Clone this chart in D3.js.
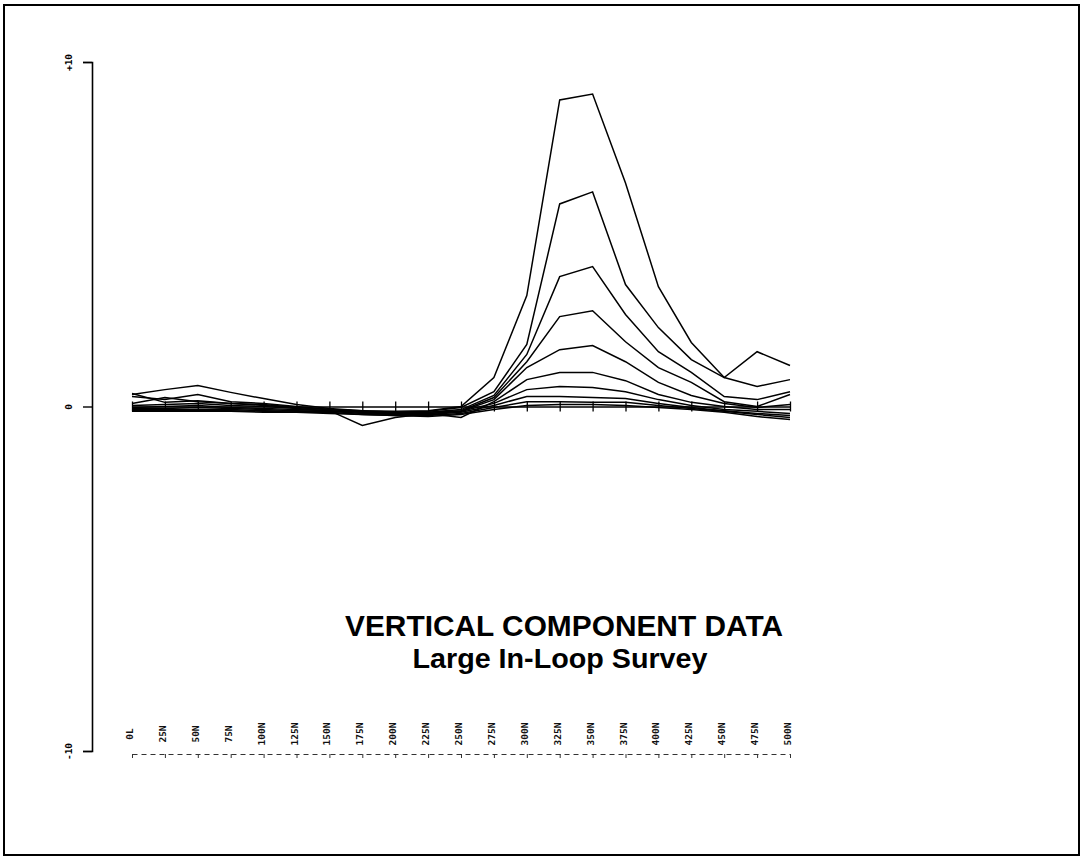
<!DOCTYPE html>
<html>
<head>
<meta charset="utf-8">
<script src="https://cdn.jsdelivr.net/npm/d3@7"></script>
<style>
body { margin: 0; background: #fff; }
svg { display: block; }
</style>
</head>
<body>
<svg id="chart" width="1083" height="858"></svg>
<script>
var stations = ["0L", "25N", "50N", "75N", "100N", "125N", "150N", "175N", "200N", "225N", "250N",
                "275N", "300N", "325N", "350N", "375N", "400N", "425N", "450N", "475N", "500N"];
var yTicks = [-10, 0, 10];
var yTickLabels = ["-10", "0", "+10"];

// one array per time channel, early to late
var ch1 = [0.35, 0.49, 0.61, 0.41, 0.23, 0.06, -0.06, -0.12, -0.14, -0.12, 0.00, 0.84, 3.22, 8.90, 9.07, 6.49, 3.48, 1.86, 0.84, 1.59, 1.19];
var ch2 = [0.29, 0.20, 0.35, 0.14, 0.09, 0.00, -0.09, -0.12, -0.17, -0.14, -0.03, 0.43, 1.80, 5.88, 6.23, 3.54, 2.29, 1.36, 0.84, 0.58, 0.78];
var ch3 = [0.38, 0.12, 0.17, 0.09, 0.06, -0.03, -0.09, -0.14, -0.17, -0.17, -0.09, 0.32, 1.51, 3.77, 4.06, 2.67, 1.59, 0.99, 0.29, 0.20, 0.43];
var ch4 = [0.09, 0.26, 0.14, 0.09, 0.03, -0.03, -0.09, -0.14, -0.20, -0.17, -0.12, 0.26, 1.30, 2.61, 2.78, 1.88, 1.13, 0.70, 0.14, 0.00, 0.35];
var ch5 = [0.03, 0.06, 0.09, 0.03, 0.00, -0.06, -0.12, -0.55, -0.32, -0.20, -0.14, 0.20, 1.13, 1.65, 1.77, 1.30, 0.70, 0.32, 0.09, -0.03, 0.06];
var ch6 = [-0.03, 0.00, 0.03, -0.03, -0.06, -0.09, -0.12, -0.17, -0.23, -0.20, -0.32, 0.14, 0.78, 0.99, 0.99, 0.75, 0.35, 0.12, 0.00, -0.09, -0.09];
var ch7 = [-0.06, -0.06, -0.03, -0.06, -0.09, -0.12, -0.14, -0.17, -0.20, -0.20, -0.14, 0.09, 0.49, 0.58, 0.55, 0.43, 0.20, 0.03, -0.09, -0.14, -0.20];
var ch8 = [-0.09, -0.09, -0.09, -0.09, -0.12, -0.14, -0.14, -0.20, -0.23, -0.23, -0.17, 0.03, 0.29, 0.29, 0.26, 0.23, 0.09, -0.03, -0.12, -0.20, -0.26];
var ch9 = [-0.12, -0.12, -0.12, -0.12, -0.14, -0.17, -0.17, -0.23, -0.26, -0.26, -0.20, -0.03, 0.14, 0.14, 0.12, 0.12, 0.03, -0.06, -0.14, -0.23, -0.32];
var ch10 = [-0.14, -0.14, -0.14, -0.14, -0.17, -0.17, -0.20, -0.23, -0.26, -0.29, -0.23, -0.09, 0.03, 0.06, 0.06, 0.03, -0.03, -0.09, -0.17, -0.29, -0.38];
var channels = [ch1, ch2, ch3, ch4, ch5, ch6, ch7, ch8, ch9, ch10];

var title1 = "VERTICAL COMPONENT DATA";
var title2 = "Large In-Loop Survey";

var svg = d3.select("#chart");

// page frame
svg.append("rect")
    .attr("x", 4).attr("y", 5)
    .attr("width", 1075).attr("height", 850)
    .attr("fill", "none")
    .attr("stroke", "#000")
    .attr("stroke-width", 2);

var x = d3.scalePoint().domain(stations).range([132, 790]);
var y = d3.scaleLinear().domain([-10, 10]).range([751, 62]);

// y axis
var yAxis = d3.axisLeft(y)
    .tickValues(yTicks)
    .tickSize(9)
    .tickFormat((d, i) => yTickLabels[i]);

var gy = svg.append("g")
    .attr("transform", "translate(92,0)")
    .call(yAxis);
gy.select(".domain").attr("stroke", "#000").attr("stroke-width", 1.6);
gy.selectAll(".tick line").attr("stroke", "#000").attr("stroke-width", 1.4);
gy.selectAll(".tick text")
    .attr("x", null)
    .attr("dy", null)
    .attr("transform", "translate(-20,0) rotate(-90)")
    .attr("text-anchor", "middle")
    .style("font-family", "'DejaVu Sans Mono', monospace")
    .style("font-size", "9.5px")
    .style("font-weight", "bold")
    .attr("fill", "#000");

// zero line with station ticks
var zeroAxis = d3.axisBottom(x).tickSizeInner(4).tickSizeOuter(0).tickFormat("");
var gz = svg.append("g")
    .attr("transform", "translate(0," + y(0) + ")")
    .call(zeroAxis);
gz.select(".domain").attr("stroke", "#000").attr("stroke-width", 1.3);
gz.selectAll(".tick line").attr("y1", -5).attr("y2", 5).attr("stroke", "#000").attr("stroke-width", 1.3);

// bottom station axis (faint, broken like the plotter output)
var bottomAxis = d3.axisBottom(x).tickSizeInner(4).tickSizeOuter(0).tickFormat("");
var gb = svg.append("g")
    .attr("transform", "translate(0,754)")
    .call(bottomAxis);
gb.select(".domain").attr("stroke", "#333").attr("stroke-width", 1).attr("stroke-dasharray", "5,4");
gb.selectAll(".tick line").attr("stroke", "#333").attr("stroke-width", 1);

// station labels
svg.append("g")
    .selectAll("text")
    .data(stations)
    .join("text")
    .attr("transform", d => "translate(" + (x(d) + 1) + ",734) rotate(-90)")
    .attr("text-anchor", "middle")
    .style("font-family", "'DejaVu Sans Mono', monospace")
    .style("font-size", "9.5px")
    .style("font-weight", "bold")
    .attr("fill", "#111")
    .text(d => d);

// channel profiles
var line = d3.line()
    .x((d, i) => x(stations[i]))
    .y(d => y(d));

svg.append("g")
    .selectAll("path")
    .data(channels)
    .join("path")
    .attr("d", line)
    .attr("fill", "none")
    .attr("stroke", "#000")
    .attr("stroke-width", 1.5)
    .attr("stroke-linejoin", "miter");

// title
svg.append("text")
    .attr("x", 564).attr("y", 636)
    .attr("text-anchor", "middle")
    .attr("textLength", 438)
    .attr("lengthAdjust", "spacingAndGlyphs")
    .style("font-family", "'Liberation Sans', Arial, sans-serif")
    .style("font-size", "29px")
    .style("font-weight", "bold")
    .text(title1);

svg.append("text")
    .attr("x", 560).attr("y", 668)
    .attr("text-anchor", "middle")
    .attr("textLength", 295)
    .attr("lengthAdjust", "spacingAndGlyphs")
    .style("font-family", "'Liberation Sans', Arial, sans-serif")
    .style("font-size", "28px")
    .style("font-weight", "bold")
    .text(title2);
</script>
</body>
</html>
